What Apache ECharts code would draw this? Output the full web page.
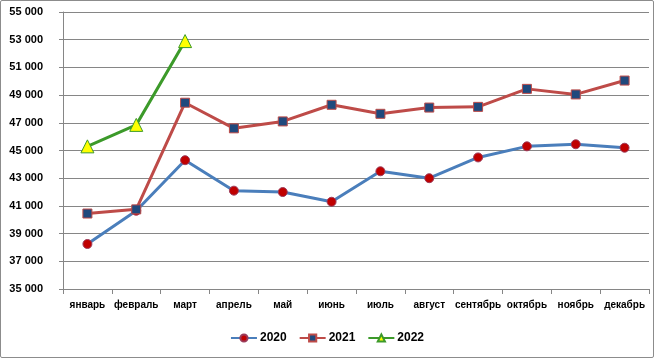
<!DOCTYPE html>
<html><head><meta charset="utf-8">
<script src="https://cdn.jsdelivr.net/npm/echarts@6/dist/echarts.min.js"></script>
<style>
html,body{margin:0;padding:0;background:#fff;}
#c{position:absolute;left:0;top:0;width:652px;height:356px;border:1px solid #8c8c8c;border-radius:2px;}
</style></head>
<body><div id="c"></div>
<script>
var categories = ['январь','февраль','март','апрель','май','июнь','июль','август','сентябрь','октябрь','ноябрь','декабрь'];
var s2020 = [38250, 40650, 44300, 42100, 42000, 41300, 43500, 43000, 44500, 45300, 45450, 45200];
var s2021 = [40450, 40750, 48450, 46600, 47100, 48300, 47650, 48100, 48150, 49450, 49050, 50050];
var s2022 = [45300, 46850, 52900];
var yTicks = {min: 35000, max: 55000, interval: 2000};

var chart = echarts.init(document.getElementById('c'));
var font = '"Liberation Sans", Arial, sans-serif';
chart.setOption({
  animation: false,
  grid: {left: 62, right: 4, top: 11, bottom: 68},
  legend: {
    bottom: 8, left: 'center', itemWidth: 26, itemHeight: 9, itemGap: 12,
    textStyle: {fontFamily: font, fontWeight: 'bold', fontSize: 12, color: '#000', padding: [0,0,0,-2]},
    data: ['2020','2021','2022']
  },
  xAxis: {
    type: 'category', data: categories, boundaryGap: true,
    axisLine: {lineStyle: {color: '#868686', width: 1}},
    axisTick: {show: true, length: 5, lineStyle: {color: '#868686'}},
    axisLabel: {fontFamily: font, fontWeight: 'bold', fontSize: 10, color: '#000', margin: 11, interval: 0}
  },
  yAxis: {
    type: 'value', min: yTicks.min, max: yTicks.max, interval: yTicks.interval,
    axisLine: {show: true, lineStyle: {color: '#868686'}},
    axisTick: {show: true, length: 4, lineStyle: {color: '#868686'}},
    splitLine: {lineStyle: {color: '#868686', width: 1}},
    axisLabel: {fontFamily: font, fontWeight: 'bold', fontSize: 11, color: '#000', margin: 20,
      formatter: function(v){ return String(v).replace(/(\d)(?=(\d{3})+$)/g, '$1 '); }}
  },
  series: [
    {name: '2020', type: 'line', data: s2020, symbol: 'circle', symbolSize: 9,
     lineStyle: {color: '#4A7EBB', width: 3}, itemStyle: {color: '#C00000', borderColor: '#9B3B5A', borderWidth: 1}, z: 2},
    {name: '2021', type: 'line', data: s2021, symbol: 'rect', symbolSize: 9,
     lineStyle: {color: '#BE4B48', width: 3}, itemStyle: {color: '#1F497D', borderColor: '#BE4B48', borderWidth: 1}, z: 3},
    {name: '2022', type: 'line', data: s2022, symbol: 'triangle', symbolSize: 13,
     lineStyle: {color: '#3C9A2A', width: 3}, itemStyle: {color: '#FFFF00', borderColor: '#3C9A2A', borderWidth: 1}, z: 4}
  ]
});
</script></body></html>
